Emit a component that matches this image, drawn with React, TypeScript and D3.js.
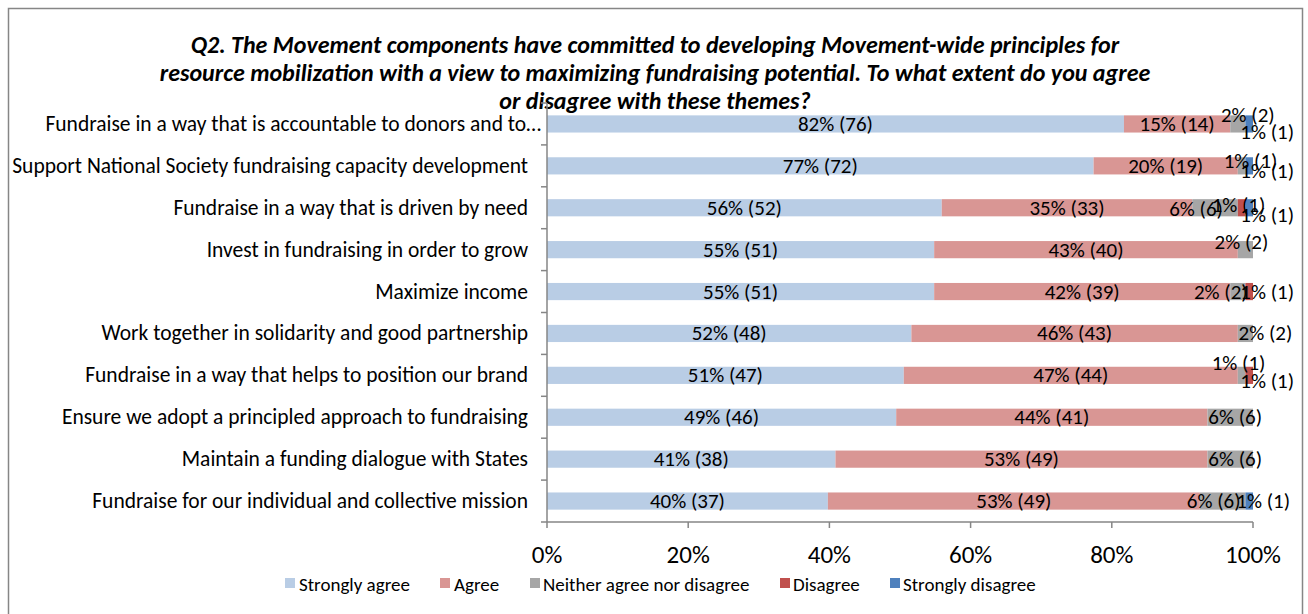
import React from "react";
import * as d3 from "d3";

const categories = [
  "Fundraise in a way that is accountable to donors and to…",
  "Support National Society fundraising capacity development",
  "Fundraise in a way that is driven by need",
  "Invest in fundraising in order to grow",
  "Maximize income",
  "Work together in solidarity and good partnership",
  "Fundraise in a way that helps to position our brand",
  "Ensure we adopt a principled approach to fundraising",
  "Maintain a funding dialogue with States",
  "Fundraise for our individual and collective mission",
];
const seriesNames = [
  "Strongly agree",
  "Agree",
  "Neither agree nor disagree",
  "Disagree",
  "Strongly disagree",
];
const stronglyAgree = [76, 72, 52, 51, 51, 48, 47, 46, 38, 37];
const agree = [14, 19, 33, 40, 39, 43, 44, 41, 49, 49];
const neither = [2, 1, 6, 2, 2, 2, 1, 6, 6, 6];
const disagree = [0, 0, 1, 0, 1, 0, 1, 0, 0, 0];
const stronglyDisagree = [1, 1, 1, 0, 0, 0, 0, 0, 0, 1];
const xTicks = [0, 0.2, 0.4, 0.6, 0.8, 1];
const titleLines = [
  "Q2. The Movement components have committed to developing Movement-wide principles for",
  "resource mobilization with a view to maximizing fundraising potential. To what extent do you agree",
  "or disagree with these themes?",
];

const colors = ["#B9CDE5", "#D99694", "#A6A6A6", "#C0504D", "#4F81BD"];
const FONT = "Carlito, Calibri, Lato, 'Open Sans', sans-serif";

// manual label nudges (row-series) to mimic the moved labels of the original
const labelNudge: Record<string, [number, number]> = {
  "0-2": [10, -9],
  "0-4": [18, 8],
  "1-2": [9, -5],
  "1-4": [18, 5],
  "2-2": [-19, 1],
  "2-3": [-3, -3],
  "2-4": [18, 7],
  "3-2": [-4, -8],
  "4-2": [-17, 0],
  "4-3": [18, 0],
  "5-2": [20, 0],
  "6-2": [-3, -12],
  "6-3": [18, 6],
  "7-2": [5, 0],
  "8-2": [5, 0],
  "9-2": [-9, 0],
  "9-4": [14, 0],
};

export default function App() {
  const W = 1308;
  const H = 614;
  const x0 = 547;
  const x1 = 1253;
  const yTop = 103;
  const yBot = 522;

  const series = [stronglyAgree, agree, neither, disagree, stronglyDisagree];
  const totals = categories.map((_, i) => d3.sum(series, (s) => s[i]));

  const x = d3.scaleLinear().domain([0, 1]).range([x0, x1]);
  const y = d3
    .scaleBand<number>()
    .domain(d3.range(categories.length))
    .range([yTop, yBot])
    .paddingInner(0.59)
    .paddingOuter(0.295);
  const step = y.step();
  const bw = y.bandwidth();

  const stack = d3
    .stack<number>()
    .keys(d3.range(series.length).map(String))
    .value((i, k) => series[+k][i] / totals[i]);
  const stacked = stack(d3.range(categories.length));

  const boundaries = d3.range(categories.length + 1).map((i) => yTop + i * step);

  const legendItems = [
    { sx: 285, tx: 299 },
    { sx: 440, tx: 454 },
    { sx: 530, tx: 543 },
    { sx: 780, tx: 793 },
    { sx: 890, tx: 903 },
  ];

  return (
    <svg
      width={W}
      height={H}
      style={{ position: "absolute", left: 0, top: 0, fontFamily: FONT }}
    >
      <rect x={0} y={0} width={W} height={H} fill="#fff" />
      <rect x={8.5} y={8.5} width={1294} height={700} fill="#fff" stroke="#868686" strokeWidth={1.5} />

      {titleLines.map((t, i) => (
        <text
          key={i}
          x={655}
          y={53 + i * 28}
          textAnchor="middle"
          fontSize={24}
          fontWeight="bold"
          fontStyle="italic"
          fill="#000"
        >
          {t}
        </text>
      ))}

      {/* bars */}
      {stacked.map((layer, k) =>
        layer.map((d, i) =>
          d[1] - d[0] > 0 ? (
            <rect
              key={`${k}-${i}`}
              x={x(d[0])}
              y={y(i)!}
              width={x(d[1]) - x(d[0])}
              height={bw}
              fill={colors[k]}
            />
          ) : null
        )
      )}

      {/* axes */}
      <line x1={x0} x2={x0} y1={yTop} y2={yBot} stroke="#868686" strokeWidth={1.5} />
      {boundaries.map((b, i) => (
        <line key={i} x1={x0 - 6} x2={x0} y1={b} y2={b} stroke="#868686" strokeWidth={1.5} />
      ))}
      <line x1={x0} x2={x1} y1={yBot} y2={yBot} stroke="#868686" strokeWidth={1.5} />
      {xTicks.map((t) => (
        <g key={t}>
          <line x1={x(t)} x2={x(t)} y1={yBot} y2={yBot + 6} stroke="#868686" strokeWidth={1.5} />
          <text
            x={x(t)}
            y={554}
            textAnchor="middle"
            dominantBaseline="central"
            fontSize={25}
            fill="#000"
          >
            {d3.format(".0%")(t)}
          </text>
        </g>
      ))}

      {/* category labels */}
      {categories.map((c, i) => (
        <text
          key={c}
          x={c.endsWith("…") ? 541 : 528}
          y={y(i)! + bw / 2}
          textAnchor="end"
          dominantBaseline="central"
          fontSize={21.5}
          fill="#000"
        >
          {c}
        </text>
      ))}

      {/* data labels */}
      {stacked.map((layer, k) =>
        layer.map((d, i) => {
          const v = series[k][i];
          if (v <= 0) return null;
          const nudge = labelNudge[`${i}-${k}`] || [0, 0];
          const pct = Math.round((v / totals[i]) * 100);
          return (
            <text
              key={`l-${k}-${i}`}
              x={x((d[0] + d[1]) / 2) + nudge[0]}
              y={y(i)! + bw / 2 + nudge[1]}
              textAnchor="middle"
              dominantBaseline="central"
              fontSize={21}
              fill="#000"
            >
              {`${pct}% (${v})`}
            </text>
          );
        })
      )}

      {/* legend */}
      {seriesNames.map((n, k) => (
        <g key={n}>
          <rect x={legendItems[k].sx} y={578} width={10} height={10} fill={colors[k]} />
          <text
            x={legendItems[k].tx}
            y={584}
            dominantBaseline="central"
            fontSize={19}
            fill="#000"
          >
            {n}
          </text>
        </g>
      ))}
    </svg>
  );
}
